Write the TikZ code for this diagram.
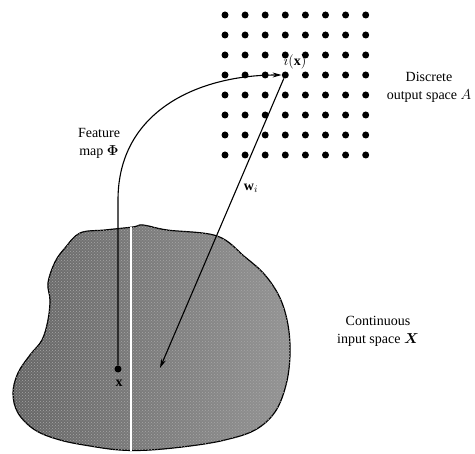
\documentclass[tikz,border=0pt]{standalone}
\usepackage{amsmath}
\usepackage{fontspec}
\setmainfont{Liberation Serif}
\usetikzlibrary{arrows.meta,patterns}
\begin{document}
\begin{tikzpicture}[x=1pt,y=-1pt,
  griddot/.style={circle,fill=black,inner sep=0pt,minimum size=7pt},
  conn/.style={line width=1.1pt,-{Stealth[length=9pt,width=5pt]}},
  lbl/.style={font=\fontsize{14}{18}\selectfont,align=center,inner sep=0pt}]
\useasboundingbox (0,0) rectangle (475,454);
% continuous input space (blob)
\path[draw=black,line width=1.2pt,left color=black!60,right color=black!42,
  postaction={pattern=crosshatch dots,pattern color=black!35}]
  plot[smooth cycle,tension=0.6] coordinates {
  (80,233) (105,230) (133,227) (143,225) (167,230) (217,236) (245,257)
  (265,275) (280,298) (288,325) (290,355) (286,385) (275,412) (255,430)
  (225,440) (190,446) (150,450) (120,450) (90,446) (60,440) (35,430)
  (18,413) (13,393) (18,373) (30,355) (42,340) (48,320) (50,300) (48,283)
  (55,262) (65,248)};
\draw[white,line width=1.3pt] (131,227) -- (131,451);
% lattice of output neurons
\foreach \i in {0,...,7}{
  \foreach \j in {0,...,7}{
    \node[griddot] (g-\i-\j) at ({225+20.1*\j},{15+20*\i}) {};
  }
}
% input point x
\node[griddot] (x) at (118,369) {};
\node[lbl] (xl) at (119,383) {$\mathbf{x}$};
\coordinate (bend) at (118,200);
\coordinate (wend) at (160,368);
% feature map arrow
\draw[conn] (x) -- (bend) .. controls (118,110) and (200,75) .. (g-3-3);
% weight vector arrow
\draw[conn] (g-3-3) -- (wend);
% labels
\node[lbl] (ixl) at (295,62) {$i(\mathbf{x})$};
\node[lbl] (wl) at (251,188) {$\mathbf{w}_i$};
\node[lbl] (fm) at (99,143) {Feature\\map $\boldsymbol{\Phi}$};
\node[lbl] (dos) at (429,87) {Discrete\\output space $A$};
\node[lbl] (cis) at (378,331) {Continuous\\input space $\boldsymbol{X}$};
\end{tikzpicture}
\end{document}
